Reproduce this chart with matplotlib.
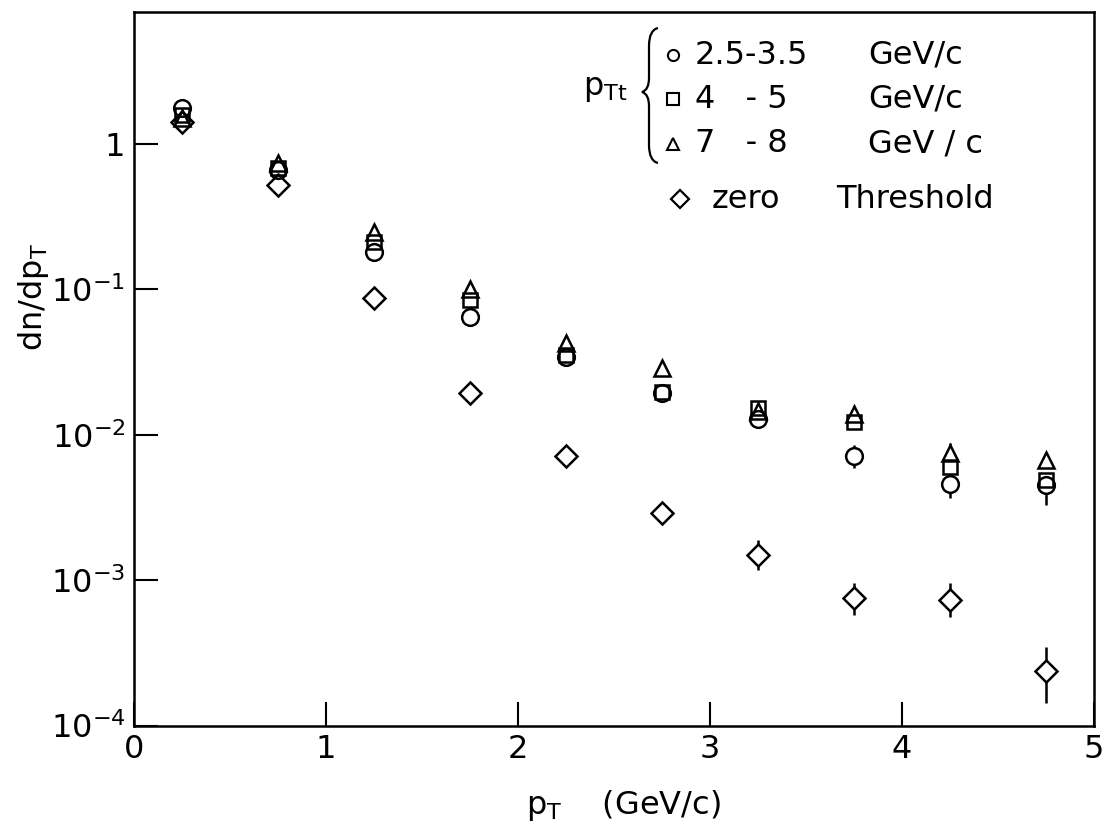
import numpy as np
import matplotlib
matplotlib.use('Agg')
import matplotlib.pyplot as plt
from matplotlib.path import Path
from matplotlib.patches import PathPatch

plt.rcParams['font.family'] = ['DejaVu Sans']
plt.rcParams['mathtext.fontset'] = 'dejavusans'

# transverse momentum bin centres (GeV/c)
pt = [0.25, 0.75, 1.25, 1.75, 2.25, 2.75, 3.25, 3.75, 4.25, 4.75]

# dn/dpT for each trigger pTt window
trig_25_35 = [1.77, 0.66, 0.18, 0.064, 0.0344, 0.0195, 0.0129, 0.0071, 0.0046, 0.0045]
trig_4_5 = [1.58, 0.68, 0.212, 0.085, 0.0355, 0.0198, 0.0152, 0.0123, 0.0060, 0.0049]
trig_7_8 = [1.51, 0.74, 0.248, 0.100, 0.0429, 0.0289, 0.0145, 0.0138, 0.0075, 0.0067]
zero_thr = [1.42, 0.52, 0.0875, 0.0194, 0.00717, 0.0029, 0.0015, 0.00075, 0.00073, 0.000239]

# error bar ends (low, high) where they stick out of the symbols
circ_err_x = [3.75, 4.25, 4.75]
circ_err_lo = [0.00593, 0.0037, 0.0033]
circ_err_hi = [0.00853, 0.0046, 0.0045]
tri_err_x = [4.25]
tri_err_lo = [0.0075]
tri_err_hi = [0.0088]
dia_err_x = [3.25, 3.75, 4.25, 4.75]
dia_err_lo = [0.00118, 0.00058, 0.00056, 0.000144]
dia_err_hi = [0.0019, 0.00096, 0.00096, 0.000349]

ytick_vals = [1, 1e-1, 1e-2, 1e-3, 1e-4]
ytick_labels = ['1', r'$10^{-1}$', r'$10^{-2}$', r'$10^{-3}$', r'$10^{-4}$']

LW = 1.8
FS = 23

fig = plt.figure(figsize=(11.05, 8.36), dpi=100)
ax = fig.add_axes([0.121, 0.132, 0.869, 0.854])
ax.set_yscale('log')
ax.set_xlim(0, 5)
ax.set_ylim(1e-4, 8.1)

series = [
    (trig_25_35, 'o', 12),
    (trig_4_5, 's', 10.5),
    (trig_7_8, '^', 11),
    (zero_thr, 'D', 11),
]

# error bars underneath the symbols
def draw_err(xs, lo, hi, yref):
    yv = [yref[pt.index(x)] for x in xs]
    lower = np.array(yv) - np.array(lo)
    upper = np.array(hi) - np.array(yv)
    ax.errorbar(xs, yv, yerr=[lower, upper], fmt='none', ecolor='black',
                elinewidth=LW, capsize=0, zorder=1)

draw_err(circ_err_x, circ_err_lo, circ_err_hi, trig_25_35)
draw_err(tri_err_x, tri_err_lo, tri_err_hi, trig_7_8)
draw_err(dia_err_x, dia_err_lo, dia_err_hi, zero_thr)

for vals, mk, ms in series:
    # white fill hides the error bar inside the symbol
    ax.plot(pt, vals, linestyle='none', marker=mk, markersize=ms,
            markerfacecolor='white', markeredgecolor='none', zorder=2)
for vals, mk, ms in series:
    ax.plot(pt, vals, linestyle='none', marker=mk, markersize=ms,
            markerfacecolor='none', markeredgecolor='black',
            markeredgewidth=LW, zorder=3)

ax.set_xticks([0, 1, 2, 3, 4, 5])
ax.set_xticklabels(['0', '1', '2', '3', '4', '5'])
ax.set_yticks(ytick_vals)
ax.set_yticklabels(ytick_labels)
ax.minorticks_off()
ax.tick_params(axis='both', direction='in', length=17, width=1.5,
               labelsize=FS, color='black')
ax.tick_params(axis='x', pad=6)
ax.tick_params(axis='y', pad=6)
for sp in ax.spines.values():
    sp.set_linewidth(LW)

ax.set_xlabel(r'$\mathregular{p_T}$    (GeV/c)', fontsize=FS)
ax.xaxis.set_label_coords(0.51, -0.088)
ax.set_ylabel(r'dn/d$\mathregular{p_T}$', fontsize=FS)
ax.yaxis.set_label_coords(-0.086, 0.60)

# key in the upper right corner, placed in figure pixels
W, H = 1105, 836


def fx(px):
    return px / W


def fy(py):
    return 1 - py / H


key_rows = [
    ('o', 8, 55, '2.5-3.5', 'GeV/c'),
    ('s', 8, 99, '4   - 5', 'GeV/c'),
    ('^', 8, 144, '7   - 8', 'GeV / c'),
]
for mk, ms, yrow, rng, unit in key_rows:
    fig.add_artist(plt.Line2D([fx(673)], [fy(yrow)], marker=mk, markersize=ms,
                              markerfacecolor='none', markeredgecolor='black',
                              markeredgewidth=1.5, linestyle='none'))
    fig.text(fx(695), fy(yrow), rng, fontsize=FS, va='center', ha='left')
    fig.text(fx(868), fy(yrow), unit, fontsize=FS, va='center', ha='left')

fig.add_artist(plt.Line2D([fx(680)], [fy(199)], marker='D', markersize=9,
                          markerfacecolor='none', markeredgecolor='black',
                          markeredgewidth=1.6, linestyle='none'))
fig.text(fx(712), fy(199), 'zero', fontsize=FS, va='center', ha='left')
fig.text(fx(836), fy(199), 'Threshold', fontsize=FS, va='center', ha='left')
fig.text(fx(583), fy(88), r'$\mathregular{p_{Tt}}$', fontsize=FS,
         va='center', ha='left')

# curly brace grouping the three trigger windows
bx_tip, bx_end = 642, 658
y_top, y_mid, y_bot = 28, 92, 163
verts = [
    (bx_end, y_top), (bx_end - 9, y_top + 2), (bx_end - 9, y_top + 18),
    (bx_end - 9, y_mid - 14), (bx_end - 9, y_mid - 2), (bx_tip, y_mid),
    (bx_end - 9, y_mid + 2), (bx_end - 9, y_mid + 14),
    (bx_end - 9, y_bot - 18), (bx_end - 9, y_bot - 2), (bx_end, y_bot),
]
codes = [Path.MOVETO, Path.CURVE3, Path.CURVE3, Path.LINETO, Path.CURVE3,
         Path.CURVE3, Path.CURVE3, Path.CURVE3, Path.LINETO, Path.CURVE3,
         Path.CURVE3]
brace = Path([(fx(x), fy(y)) for x, y in verts], codes)
fig.add_artist(PathPatch(brace, facecolor='none', edgecolor='black',
                         linewidth=1.6, transform=fig.transFigure))

fig.savefig('out.png', dpi=100)
